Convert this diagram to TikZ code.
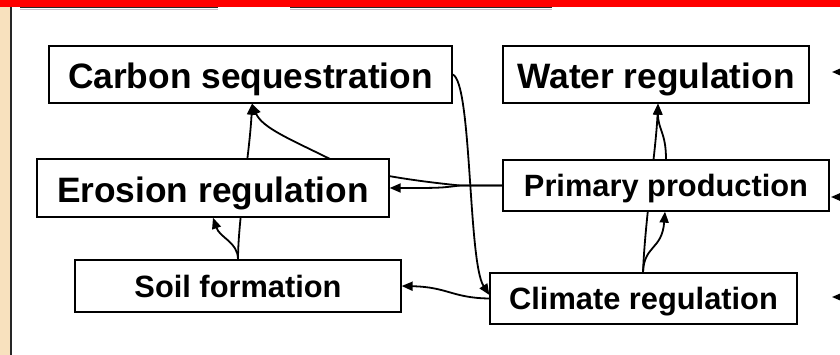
\documentclass[tikz,border=0pt]{standalone}
\usepackage{fontspec}
\setmainfont{Liberation Sans}
\usepackage{xcolor}
\usetikzlibrary{arrows.meta,backgrounds}
\definecolor{wheatstrip}{RGB}{248,225,190}
\definecolor{shadowline}{RGB}{200,190,200}

\begin{document}
\begin{tikzpicture}[x=1pt, y=-1pt,
bigbox/.style={draw, line width=1.3pt, fill=white, inner sep=0pt, font=\fontsize{35.3}{40}\selectfont\bfseries, text height=30pt, text depth=1pt},
smallbox/.style={bigbox, font=\fontsize{30.8}{36}\selectfont\bfseries, text height=23pt, text depth=1pt},
arrow/.style={-{Triangle[length=11pt,width=9pt]}, line width=1.8pt}
]
\useasboundingbox (0,0) rectangle (840,355);
\clip (0,0) rectangle (840,355);
\node[bigbox, minimum width=403pt, minimum height=57pt] (carb) at (250.5,74.5) {Carbon sequestration};
\node[bigbox, minimum width=306pt, minimum height=57pt] (water) at (656,74.5) {Water regulation};
\node[bigbox, minimum width=352pt, minimum height=58pt] (ero) at (213,188) {Erosion regulation};
\node[smallbox, minimum width=326pt, minimum height=52pt] (soil) at (238,286) {Soil formation};
\node[smallbox, minimum width=326pt, minimum height=51pt] (prim) at (666,185.5) {Primary production};
\node[smallbox, minimum width=307pt, minimum height=51pt] (clim) at (643.5,298.5) {Climate regulation};
\coordinate (waterin) at (832,72);
\coordinate (waterout) at (870,72);
\coordinate (primin) at (831,197);
\coordinate (primout) at (870,197);
\coordinate (climin) at (832,297);
\coordinate (climout) at (870,297);
\begin{scope}[on background layer]
\fill[red] (0,0) rectangle (840,7.5);
\fill[wheatstrip] (0,7.5) rectangle (10.3,355);
\fill[black!85] (10.3,7.5) rectangle (12.3,355);
\draw[shadowline, line width=1pt] (20,9.3) -- (218,9.3) (290,9.3) -- (552,9.3);
\draw[black!85, line width=1pt] (20,8) -- (218,8) (290,8) -- (552,8);
\draw[arrow] (soil.north) .. controls (238,220) and (250,150) .. ([xshift=1.5pt]carb.south);
\draw[arrow] (soil.north) .. controls (238,242) and (220,238) .. (ero.south);
\draw[arrow] (prim.west) -- (460,185.5) .. controls (385,178) and (345,168) .. (330,159) .. controls (292,140) and (262,128) .. ([xshift=1.5pt]carb.south);
\draw[arrow] (prim.west) -- (460,185.5) .. controls (440,188) .. (ero.east);
\draw[arrow] (carb.east) .. controls (472,82) and (468,262) .. ([yshift=3.5pt]clim.west);
\draw[arrow] (clim.west) .. controls (452,298) and (448,287) .. (soil.east);
\draw[arrow] ([xshift=-0.5pt]clim.north) .. controls (645,220) and (656,150) .. ([xshift=2pt]water.south);
\draw[arrow] ([xshift=-0.5pt]clim.north) .. controls (644,245) and (662,250) .. ([xshift=-1pt]prim.south);
\draw[arrow] (prim.north) .. controls (666,132) and (658,130) .. ([xshift=2pt]water.south);
\draw[arrow] (waterout) -- (waterin);
\draw[arrow] (primout) -- (primin);
\draw[arrow] (climout) -- (climin);
\end{scope}
\end{tikzpicture}
\end{document}
